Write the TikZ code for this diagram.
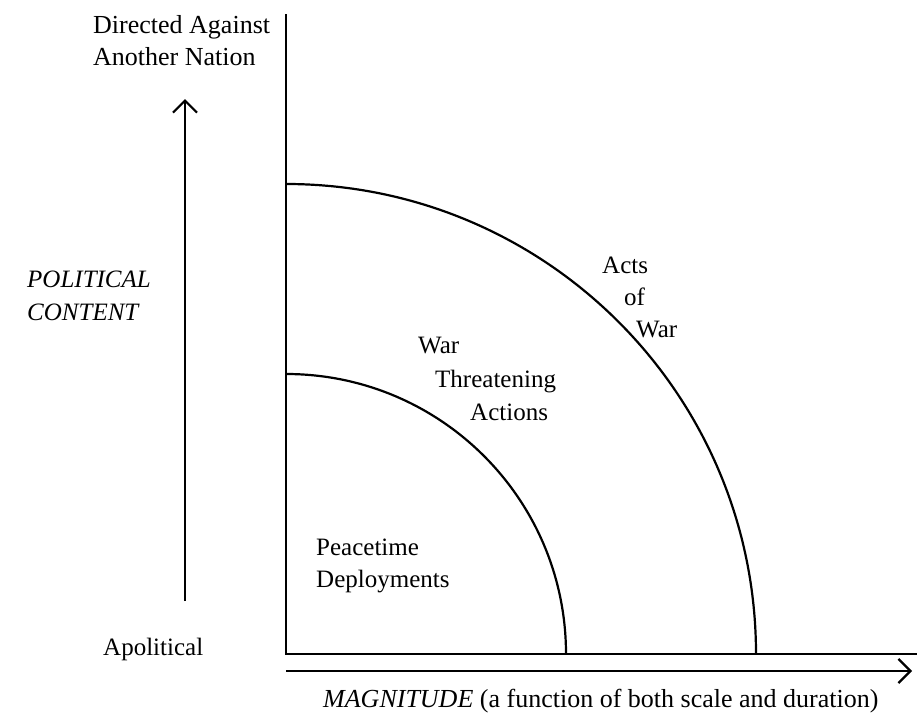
\documentclass[tikz,border=0pt]{standalone}
\usepackage{fontspec}
\setmainfont{Liberation Serif}
\usetikzlibrary{arrows.meta}
\begin{document}
\begin{tikzpicture}[x=1pt,y=-1pt,
  axisline/.style={line width=2.4pt},
  arcline/.style={line width=2.2pt},
  chevron/.style={-{Straight Barb[length=12pt,width=24pt,line width=2.2pt]}, line width=2.4pt},
  lbl/.style={inner sep=0pt, anchor=base west, font=\fontsize{25}{32}\selectfont},
  ilbl/.style={lbl, font=\fontsize{25}{32}\selectfont\itshape}]
\useasboundingbox (0,0) rectangle (919,715);
% axes
\coordinate (O) at (286,654);
\coordinate (Ytop) at (286,14);
\coordinate (Xend) at (917,654);
\draw[axisline] (Ytop) -- (O) -- (Xend);
% arcs
\coordinate (inTop) at (286,374);
\coordinate (outTop) at (286,184);
\draw[arcline] (inTop) arc[start angle=90,end angle=0,radius=280pt];
\draw[arcline] (outTop) arc[start angle=90,end angle=0,radius=470pt];
% magnitude arrow
\coordinate (mStart) at (286,671);
\coordinate (mEnd) at (912,671);
\draw[chevron] (mStart) -- (mEnd);
% political content arrow
\coordinate (pStart) at (185,601);
\coordinate (pEnd) at (185,99);
\draw[chevron] (pStart) -- (pEnd);
% labels
\node[lbl, font=\fontsize{26}{32}\selectfont] (dir1) at (93,33) {Directed Against};
\node[lbl, font=\fontsize{26}{32}\selectfont] (dir2) at (93,65) {Another Nation};
\node[ilbl] (pol1) at (27,287) {POLITICAL};
\node[ilbl] (pol2) at (27,320) {CONTENT};
\node[lbl] (apol) at (103,655) {Apolitical};
\node[lbl] (acts1) at (602,273) {Acts};
\node[lbl] (acts2) at (624,305) {of};
\node[lbl] (acts3) at (636,337) {War};
\node[lbl] (wta1) at (418,353) {War};
\node[lbl] (wta2) at (435,387) {Threatening};
\node[lbl] (wta3) at (470,420) {Actions};
\node[lbl] (pd1) at (316,555) {Peacetime};
\node[lbl] (pd2) at (316,587) {Deployments};
\node[lbl, font=\fontsize{26}{32}\selectfont] (mag) at (323,707) {\textit{MAGNITUDE} (a function of both scale and duration)};
\end{tikzpicture}
\end{document}
